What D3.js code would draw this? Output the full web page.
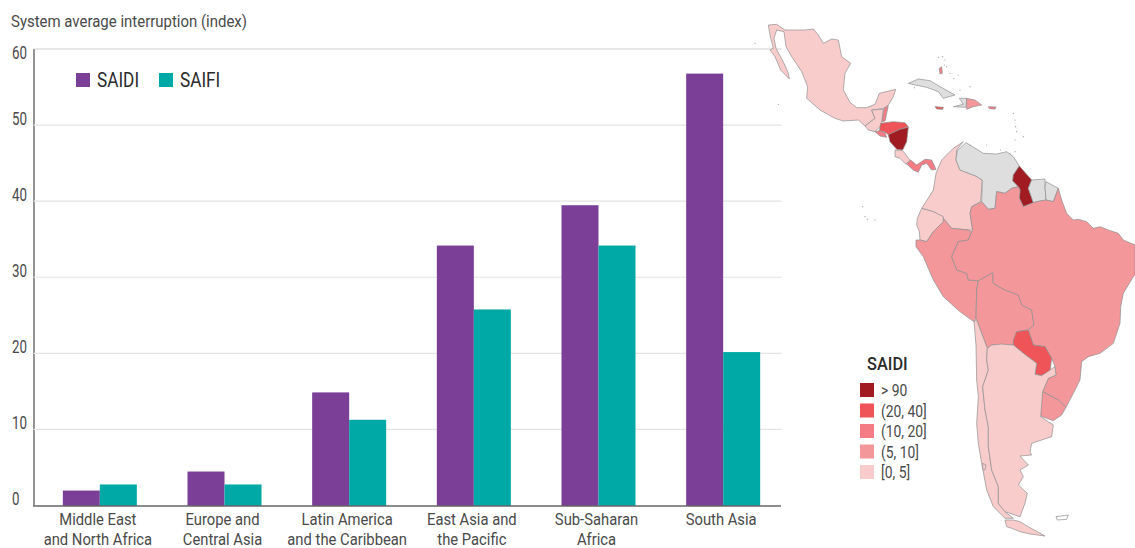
<!DOCTYPE html>
<html><head><meta charset="utf-8">
<script src="https://cdn.jsdelivr.net/npm/d3@7/dist/d3.min.js"></script>
<style>
html,body{margin:0;padding:0;background:#fff}
svg{display:block}
text{font-family:Roboto,"Liberation Sans",sans-serif}
</style></head><body>
<svg id="c" width="1135" height="548"></svg>
<script>
const categories = ["Middle East|and North Africa","Europe and|Central Asia","Latin America|and the Caribbean","East Asia and|the Pacific","Sub-Saharan|Africa","South Asia"];
const saidi = [1.9,4.4,14.8,34.1,39.4,56.7];
const saifi = [2.7,2.7,11.2,25.7,34.1,20.1];
const seriesNames = ["SAIDI","SAIFI"];
const seriesColors = ["#7b3f98","#00a9a5"];
const yTicks = [0,10,20,30,40,50,60];
const legendLabels = ["> 90","(20, 40]","(10, 20]","(5, 10]","[0, 5]"];
const legendColors = ["#a11c22","#ef5458","#f47c85","#f4979a","#f9cccc"];
const noData = "#dedede";

// Digitised country outlines (map grid units)
const mapCountries = [
 {n:"Mexico",c:"[0, 5]",r:[[55,45],[80,43],[105,60],[165,60],[190,57],[205,75],[220,100],[245,87],[265,90],[275,140],[302,160],[285,190],[280,240],[300,277],[320,293],[350,293],[375,283],[388,250],[437,238],[430,260],[415,285],[400,295],[365,300],[375,325],[345,348],[325,330],[280,333],[255,325],[210,300],[170,265],[173,230],[155,185],[125,140],[108,110],[102,65],[80,60],[72,85],[78,115],[102,160],[115,190],[118,207],[92,180],[75,140],[60,120],[70,115],[60,75]]},
 {n:"Belize",c:"(10, 20]",r:[[402,295],[415,287],[405,333],[395,335]]},
 {n:"Guatemala",c:"[0, 5]",r:[[365,300],[400,298],[395,337],[390,350],[375,365],[355,360],[345,348],[375,325]]},
 {n:"Honduras",c:"(20, 40]",r:[[392,340],[430,335],[465,338],[475,350],[450,358],[415,374],[405,366],[388,362]]},
 {n:"El Salvador",c:"(10, 20]",r:[[375,365],[388,362],[405,368],[410,382],[390,378]]},
 {n:"Nicaragua",c:"> 90",r:[[415,374],[450,358],[475,352],[470,395],[458,420],[440,418],[420,395]]},
 {n:"Costa Rica",c:"[0, 5]",r:[[435,420],[458,422],[480,450],[468,463],[450,445],[435,440]]},
 {n:"Panama",c:"(10, 20]",r:[[470,462],[482,450],[500,465],[525,448],[545,450],[558,478],[545,480],[530,460],[515,465],[505,487],[490,480]]},
 {n:"Cuba",c:null,r:[[475,220],[505,207],[540,212],[570,230],[615,255],[580,265],[565,245],[530,232],[495,225]]},
 {n:"Haiti",c:null,r:[[628,265],[650,265],[648,292],[610,290],[640,283]]},
 {n:"Dominican Republic",c:"(5, 10]",r:[[650,265],[675,270],[695,285],[670,290],[650,298]]},
 {n:"Jamaica",c:"(20, 40]",r:[[555,290],[580,292],[578,298],[560,297]]},
 {n:"Puerto Rico",c:"(10, 20]",r:[[715,290],[738,291],[735,297],[718,296]]},
 {n:"Bahamas",c:"(10, 20]",r:[[568,175],[575,170],[577,190],[570,192]]},
 {n:"Colombia",c:"[0, 5]",r:[[640,395],[620,420],[618,450],[630,480],[675,497],[697,510],[692,575],[665,590],[660,610],[668,660],[655,660],[605,655],[580,625],[550,605],[515,595],[528,575],[550,540],[558,490],[575,450],[610,415]]},
 {n:"Venezuela",c:null,r:[[622,422],[648,398],[665,408],[700,430],[740,432],[770,425],[790,440],[808,468],[790,495],[790,515],[805,530],[785,535],[765,550],[740,545],[735,595],[715,598],[695,575],[697,510],[675,497],[630,480],[618,450]]},
 {n:"Guyana",c:"> 90",r:[[808,468],[845,510],[835,535],[850,578],[820,590],[808,565],[810,540],[805,530],[788,512],[790,495]]},
 {n:"Suriname",c:null,r:[[845,510],[885,507],[885,530],[888,570],[860,575],[850,578],[835,535]]},
 {n:"French Guiana",c:null,r:[[888,515],[925,535],[910,575],[888,570],[885,530]]},
 {n:"Ecuador",c:"[0, 5]",r:[[515,595],[550,605],[580,620],[580,635],[550,665],[530,695],[510,690],[508,665],[500,645],[502,625]]},
 {n:"Peru",c:"(5, 10]",r:[[580,625],[605,655],[655,660],[665,665],[655,690],[625,695],[605,740],[620,780],[650,790],[655,810],[685,812],[680,840],[678,925],[672,935],[630,905],[580,860],[550,810],[520,740],[498,710],[498,690],[510,690],[530,695],[550,665],[580,635]]},
 {n:"Bolivia",c:"(5, 10]",r:[[685,812],[728,788],[730,820],[765,840],[805,855],[815,885],[845,900],[852,945],[835,960],[800,965],[790,1005],[725,1005],[712,1015],[680,930],[678,925],[680,840]]},
 {n:"Brazil",c:"(5, 10]",r:[[668,660],[660,610],[665,590],[695,575],[715,598],[735,595],[740,545],[765,550],[785,535],[805,530],[810,540],[808,565],[820,590],[850,578],[860,575],[888,570],[910,575],[925,535],[935,570],[950,610],[970,630],[985,628],[1010,635],[1030,655],[1050,650],[1075,660],[1105,670],[1120,690],[1155,705],[1155,795],[1150,800],[1120,850],[1112,890],[1110,940],[1090,1000],[1050,1030],[1015,1040],[995,1055],[990,1110],[970,1150],[948,1192],[925,1170],[878,1145],[895,1105],[918,1095],[915,1070],[905,1045],[885,1010],[850,1005],[835,960],[852,945],[845,900],[815,885],[805,855],[765,840],[730,820],[728,788],[685,812],[655,810],[650,790],[620,780],[605,740],[625,695],[655,690],[665,665]]},
 {n:"Paraguay",c:"(20, 40]",r:[[790,990],[800,965],[835,960],[850,1005],[885,1010],[905,1045],[900,1085],[875,1097],[855,1093],[860,1060],[820,1030],[790,1005]]},
 {n:"Uruguay",c:"(5, 10]",r:[[878,1145],[925,1170],[948,1192],[935,1215],[910,1232],[890,1225],[872,1218],[872,1180]]},
 {n:"Chile",c:"[0, 5]",r:[[672,935],[680,930],[712,1015],[710,1050],[715,1080],[698,1130],[705,1200],[715,1250],[715,1310],[725,1380],[745,1430],[745,1480],[765,1505],[790,1525],[765,1525],[730,1490],[710,1440],[695,1360],[685,1300],[680,1240],[685,1160],[680,1110],[678,1005]]},
 {n:"Argentina",c:"[0, 5]",r:[[725,1005],[755,1002],[790,1005],[820,1030],[860,1060],[855,1093],[875,1097],[915,1070],[918,1095],[895,1105],[878,1145],[872,1220],[910,1245],[905,1280],[845,1300],[840,1325],[845,1335],[810,1338],[835,1365],[810,1380],[820,1400],[805,1425],[832,1450],[825,1480],[810,1520],[765,1505],[745,1480],[745,1430],[725,1380],[715,1310],[715,1250],[705,1200],[698,1130],[715,1080],[710,1050],[712,1015]]},
 {n:"Tierra del Fuego",c:"[0, 5]",r:[[765,1530],[790,1530],[810,1535],[835,1550],[885,1578],[840,1572],[810,1565],[785,1555],[770,1550]]},
 {n:"Chiloe",c:"[0, 5]",r:[[698,1360],[708,1365],[705,1380],[698,1378]]},
 {n:"Falkland Islands",c:"none",r:[[918,1520],[955,1515],[950,1528],[922,1530]]}
];
const islandDots = [[565,142],[578,140],[585,150],[590,170],[600,190],[612,205],[630,240],[660,230],[625,195],[583,165],[790,310],[795,330],[797,350],[800,365],[820,380],[795,390],[795,425],[780,430],[660,405],[710,405],[752,420],[338,590],[345,620],[352,628],[375,630],[15,100],[85,283],[493,233]];

const svg = d3.select("#c");
const lblCol = "#4a4a4a", darkCol = "#2b2b2b";
// Condense a text element horizontally to mimic the narrow source typeface
function narrow(sel,k){ sel.each(function(){ const n=this; const w=n.getComputedTextLength(); n.setAttribute("textLength",(w*k).toFixed(1)); n.setAttribute("lengthAdjust","spacingAndGlyphs"); }); return sel; }

const x = d3.scaleBand().domain(categories).range([37.5,785.5]);
const y = d3.scaleLinear().domain([0,60]).range([505,48.5]);
const inner = d3.scaleBand().domain(seriesNames).range([x.bandwidth()/2-37,x.bandwidth()/2+37]);
const values = {SAIDI:saidi,SAIFI:saifi};
const fillOf = d3.scaleOrdinal(seriesNames,seriesColors);

// Y axis + gridlines
const yAxis = d3.axisLeft(y).tickValues(yTicks).tickSize(0).tickPadding(0);
const gy = svg.append("g").attr("transform","translate(33.5,0)").call(yAxis);
gy.select(".domain").attr("stroke","#666").attr("stroke-width",1.4);
gy.selectAll(".tick").each(function(d){
  const t=d3.select(this);
  t.select("line").attr("x2",748).attr("stroke",d===60?"#cfcfcf":"#e4e4e4").attr("stroke-width",1.2).attr("stroke-opacity",d===0?0:1);
  const lab=t.select("text").attr("x",-21.5).attr("dy",d===60?"9.5":"-0.5").attr("text-anchor","start")
   .attr("font-size",18).attr("font-weight",400).attr("fill",lblCol);
  narrow(lab,0.74);
});

// Bars
const groups = svg.append("g").selectAll("g").data(seriesNames).join("g").attr("fill",d=>fillOf(d));
groups.selectAll("rect").data(s=>categories.map((c,i)=>({s,c,v:values[s][i]}))).join("rect")
  .attr("x",d=>x(d.c)+inner(d.s)).attr("width",inner.bandwidth())
  .attr("y",d=>y(d.v)).attr("height",d=>y(0)+1-y(d.v));

// X axis
const xAxis = d3.axisBottom(x).tickSize(0).tickFormat("");
const gx = svg.append("g").attr("transform",`translate(0,${y(0)+1})`).call(xAxis);
gx.select(".domain").remove();
gx.append("line").attr("x1",x.range()[0]-4.5).attr("x2",781).attr("stroke","#666").attr("stroke-width",1.5);
gx.selectAll(".tick").each(function(d){
  const g=d3.select(this); g.select("text").remove();
  d.split("|").forEach((line,i)=>{
    const t=g.append("text").attr("x",-2).attr("y",19+i*19.5).attr("text-anchor","middle")
      .attr("font-size",17).attr("font-weight",400).attr("fill",lblCol).text(line);
    narrow(t,0.87);
  });
});

// Title
narrow(svg.append("text").attr("x",11).attr("y",26.5).attr("font-size",17).attr("font-weight",400).attr("fill",lblCol).text("System average interruption (index)"),0.88);

// Legend
const leg = svg.append("g").selectAll("g").data(seriesNames).join("g").attr("transform",(d,i)=>`translate(${76+i*83},73)`);
leg.append("rect").attr("width",14).attr("height",14).attr("fill",d=>fillOf(d));
narrow(leg.append("text").attr("x",21).attr("y",14).attr("font-size",20).attr("fill",darkCol).text(d=>d),0.86);

// Map
const colorOf = d3.scaleOrdinal(legendLabels,legendColors);
const proj = d3.geoIdentity().scale(1/3).translate([750,10]);
const path = d3.geoPath(proj).pointRadius(0.6);
const features = mapCountries.map(d=>({type:"Feature",properties:{name:d.n,cls:d.c},geometry:{type:"Polygon",coordinates:[d.r.concat([d.r[0]])]}}));
const gm = svg.append("g");
gm.selectAll("path.country").data(features).join("path").attr("class","country")
  .attr("d",path)
  .attr("fill",d=>d.properties.cls==="none"?"#fff":d.properties.cls?colorOf(d.properties.cls):noData)
  .attr("stroke","#8f8f8f").attr("stroke-width",0.7).attr("stroke-linejoin","round");
gm.append("path").datum({type:"MultiPoint",coordinates:islandDots}).attr("d",path).attr("fill","#9a9a9a");

// Map legend
narrow(svg.append("text").attr("x",867).attr("y",370).attr("font-size",19).attr("font-weight",500).attr("fill",darkCol).text("SAIDI"),0.86);
const ml = svg.append("g").selectAll("g").data(legendLabels).join("g").attr("transform",(d,i)=>`translate(860,${383+i*20.5})`);
ml.append("rect").attr("width",14).attr("height",14).attr("fill",d=>colorOf(d));
narrow(ml.append("text").attr("x",21).attr("y",13).attr("font-size",16.5).attr("font-weight",400).attr("fill",lblCol).text(d=>d),0.84);
</script>
</body></html>
